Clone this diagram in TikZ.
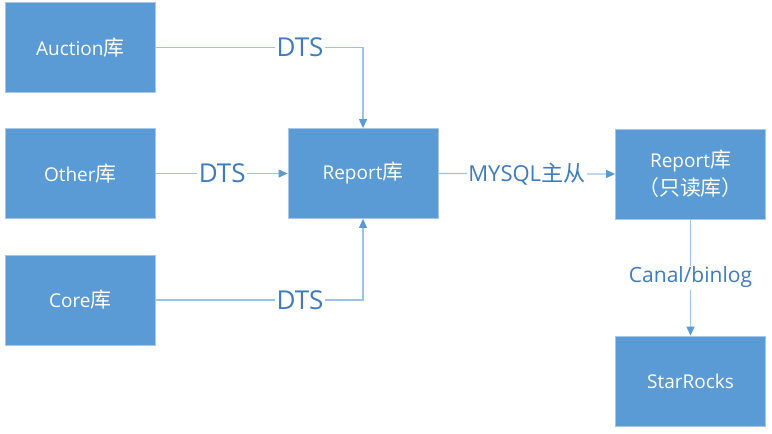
\documentclass[tikz,border=0pt]{standalone}
\usepackage{fontspec}
\setmainfont{Open Sans}
\newfontfamily\cjk[Scale=1.1]{Noto Sans CJK SC}
\newfontfamily\cjklab{Noto Sans CJK SC}
\usetikzlibrary{arrows.meta}
\definecolor{boxfill}{HTML}{5B9BD5}
\definecolor{boxedge}{HTML}{A9C6E6}
\definecolor{linec}{HTML}{9DC3E6}
\definecolor{arrowc}{HTML}{5B9BD5}
\definecolor{labc}{HTML}{3E7CBF}
\begin{document}
\begin{tikzpicture}[x=1pt,y=-1pt,
  db/.style={fill=boxfill,draw=boxedge,line width=0.8pt,minimum width=150pt,minimum height=90pt,inner sep=0pt,text=white,font=\fontsize{19}{28}\selectfont,align=center},
  conn/.style={draw=linec,line width=1.2pt,-{Triangle[length=9pt,width=8pt,color=arrowc]}},
  lab/.style={fill=white,text=labc,inner sep=1.5pt},
  dts/.style={lab,font=\fontsize{26}{30}\selectfont},
  lab2/.style={lab,font=\fontsize{22}{26}\selectfont}]
\useasboundingbox (0,0) rectangle (772,434);
\node[db] (auction) at (80.3,47.5) {Auction{\cjk 库}};
\node[db] (other) at (80.3,173.5) {Other{\cjk 库}};
\node[db] (core) at (80.3,300) {Core{\cjk 库}};
\node[db] (report) at (363,173.5) {Report{\cjk 库}};
\node[db] (ro) at (690.5,174) {Report{\cjk 库}\\{\cjk （只读库）}};
\node[db] (star) at (690.5,381) {StarRocks};
\draw[conn] (auction.east) -| node[dts,pos=0.348] (l1) {DTS} (report.north);
\draw[conn] (other.east) -- node[dts,pos=0.504] (l2) {DTS} (report.west);
\draw[conn] (core.east) -| node[dts,pos=0.348] (l3) {DTS} (report.south);
\draw[conn] (report.east) -- node[lab2,midway] (l4) {MYSQL{\cjklab 主从}} (ro.west);
\draw[conn] (ro.south) -- node[lab2,midway,font=\fontsize{21}{26}\selectfont] (l5) {Canal/binlog} (star.north);
\end{tikzpicture}
\end{document}
